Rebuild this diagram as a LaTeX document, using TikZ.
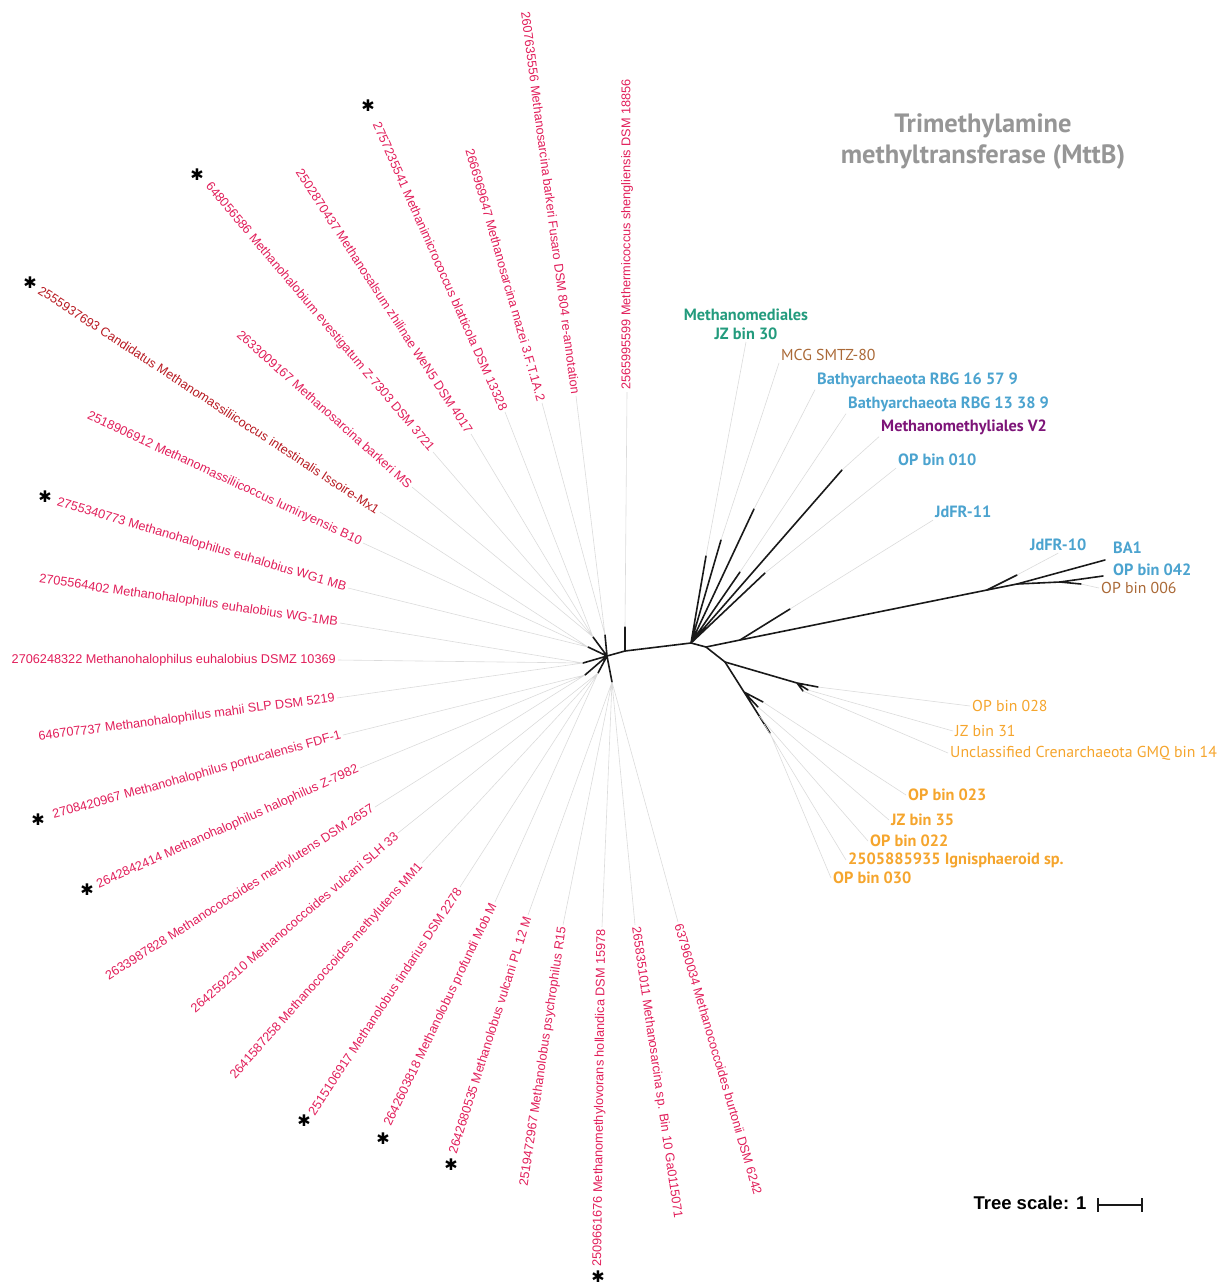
\documentclass[tikz,border=0pt]{standalone}
\usepackage{fontspec}
\setmainfont{Liberation Sans}
\newfontfamily\binfont{PT Sans}
\newfontfamily\symfont{DejaVu Sans}

\definecolor{mpink}{HTML}{E11E5A}
\definecolor{mred}{HTML}{B81A22}
\definecolor{bteal}{HTML}{239B7D}
\definecolor{bblue}{HTML}{4BA3CF}
\definecolor{bpurple}{HTML}{7D1478}
\definecolor{bbrown}{HTML}{AA6937}
\definecolor{borange}{HTML}{F5A52D}
\definecolor{ttlgray}{HTML}{969696}

\tikzset{
  branch/.style={line width=1.6pt, black!90, line cap=round},
  leader/.style={line width=0.6pt, black!14},
  taxon/.style={text=mpink, inner sep=2pt, font=\fontsize{12.7}{14}\selectfont},
  binlab/.style={inner sep=2pt, anchor=west, font=\binfont\fontsize{15.8}{19}\selectfont},
  binbold/.style={binlab, font=\binfont\bfseries\fontsize{16.3}{19}\selectfont},
  starmark/.style={inner sep=0pt, font=\symfont\fontsize{16}{16}\selectfont},
  scalebar/.style={line width=1.8pt, black!90}
}

\begin{document}
\begin{tikzpicture}[x=1pt,y=-1pt]
\useasboundingbox (0,0) rectangle (1228,1285);

%title
\node[font=\binfont\bfseries\fontsize{26.5}{31}\selectfont, text=ttlgray, align=center] (ttl) at (983,141) {Trimethylamine\\methyltransferase (MttB)};

%inner nodes
\coordinate (hub) at (607,656);
\coordinate (cM) at (625,651);
\coordinate (nA) at (691,643);
\coordinate (nB) at (706,647);
\coordinate (nC) at (740,640);
\coordinate (nD) at (987,590);
\coordinate (nE) at (1017,584);
\coordinate (nF) at (1060,582);
\coordinate (nG) at (725,662);
\coordinate (nH) at (797,683);
\coordinate (nI) at (744,692);

%tips, left cluster
\coordinate (tL1) at (605,635);
\coordinate (tL2) at (593,637);
\coordinate (tL3) at (588,647);
\coordinate (tL4) at (583,663);
\coordinate (tL5) at (585,675);
\coordinate (tL6) at (598,673);
\coordinate (tL7) at (612,682);
\coordinate (tMs) at (625,627);

%tips, upper right cluster
\coordinate (tMed) at (706,556);
\coordinate (tMCG) at (721,540);
\coordinate (tR16) at (754,509);
\coordinate (tR13) at (740,572);
\coordinate (tV2) at (842,470);
\coordinate (t010) at (765,573);

%tips, long branch
\coordinate (tJ11) at (790,609);
\coordinate (tJ10) at (1017,575);
\coordinate (tBA1) at (1105,560);
\coordinate (t042) at (1103,576);
\coordinate (t006) at (1081,584);

%tips, lower right cluster
\coordinate (t028) at (818,687);
\coordinate (tJ31) at (808,690);
\coordinate (tGMQ) at (803,691);
\coordinate (t023) at (763,702);
\coordinate (tJ35) at (758,707);
\coordinate (t022) at (759,716);
\coordinate (tIgn) at (764,724);
\coordinate (t030) at (770,733);

%branches
\draw[branch] (hub) -- (cM) -- (nA) -- (nB) -- (nC) -- (nD) -- (nE) -- (nF);
\draw[branch] (cM) -- (tMs);
\draw[branch] (hub) -- (tL1) (hub) -- (tL2) (hub) -- (tL3) (hub) -- (tL4)
  (hub) -- (tL5) (hub) -- (tL6) (hub) -- (tL7);
\draw[branch] (nA) -- (tMed) (nA) -- (tMCG) (nA) -- (tR16) (nA) -- (tR13)
  (nA) -- (tV2) (nA) -- (t010);
\draw[branch] (nC) -- (tJ11) (nD) -- (tJ10) (nE) -- (tBA1) (nF) -- (t042) (nF) -- (t006);
\draw[branch] (nB) -- (nG) -- (nH) -- (t028) (nH) -- (tJ31) (nH) -- (tGMQ);
\draw[branch] (nG) -- (nI) -- (t030) (nI) -- (t023) (nI) -- (tJ35);

%methylotrophic methanogens
\node[taxon, rotate=-82.5, anchor=east] (l1) at (576,396) {2607635556 Methanosarcina barkeri Fusaro DSM 804 re-annotation};
\node[taxon, rotate=90, anchor=west] (l2) at (627,392) {2565995599 Methermicoccus shengliensis DSM 18856};
\node[taxon, rotate=-74.1, anchor=east] (l3) at (542,403) {2666969647 Methanosarcina mazei 3.F.T.1A.2};
\node[taxon, rotate=-66.1, anchor=east] (l4) at (505,412) {2757235541 Methanimicrococcus blatticola DSM 13328};
\node[taxon, rotate=-56.9, anchor=east] (l5) at (471,434) {2502870437 Methanosalsum zhilinae WeN5 DSM 4017};
\node[taxon, rotate=-49.9, anchor=east] (l6) at (433,452) {648056586 Methanohalobium evestigatum Z-7303 DSM 3721};
\node[taxon, rotate=-41.7, anchor=east] (l7) at (412,487) {2633009167 Methanosarcina barkeri MS};
\node[taxon, text=mred, rotate=-33.2, anchor=east] (l8) at (380,512) {2555937693 Candidatus Methanomassiliicoccus intestinalis Issoire-Mx1};
\node[taxon, rotate=-24.8, anchor=east] (l9) at (363,543) {2518906912 Methanomassiliicoccus luminyensis B10};
\node[taxon, rotate=-16.4, anchor=east] (l10) at (348,588) {2755340773 Methanohalophilus euhalobius WG1 MB};
\node[taxon, rotate=-8.2, anchor=east] (l11) at (340,623) {2705564402 Methanohalophilus euhalobius WG-1MB};
\node[taxon, anchor=east] (l12) at (338,660) {2706248322 Methanohalophilus euhalobius DSMZ 10369};
\node[taxon, rotate=7.5, anchor=east] (l13) at (337,698) {646707737 Methanohalophilus mahii SLP DSM 5219};
\node[taxon, rotate=15.5, anchor=east] (l14) at (343,735) {2708420967 Methanohalophilus portucalensis FDF-1};
\node[taxon, rotate=24.1, anchor=east] (l15) at (360,768) {2642842414 Methanohalophilus halophilus Z-7982};
\node[taxon, rotate=32.5, anchor=east] (l16) at (375,807) {2633987828 Methanococcoides methylutens DSM 2657};
\node[taxon, rotate=40.7, anchor=east] (l17) at (398,833) {2642592310 Methanococcoides vulcani SLH 33};
\node[taxon, rotate=48.6, anchor=east] (l18) at (422,863) {2641587258 Methanococcoides methylutens MM1};
\node[taxon, rotate=56.7, anchor=east] (l19) at (460,887) {2515106917 Methanolobus tindarius DSM 2278};
\node[taxon, rotate=64.4, anchor=east] (l20) at (495,902) {2642603818 Methanolobus profundi Mob M};
\node[taxon, rotate=72.4, anchor=east] (l21) at (528,915) {2642680535 Methanolobus vulcani PL 12 M};
\node[taxon, rotate=81.6, anchor=east] (l22) at (563,925) {2519472967 Methanolobus psychrophilus R15};
\node[taxon, rotate=89.3, anchor=east] (l23) at (602,927) {2509661676 Methanomethylovorans hollandica DSM 15978};
\node[taxon, rotate=-81.7, anchor=west] (l24) at (635,925) {2658351011 Methanosarcina sp. Bin 10 Ga0115071};
\node[taxon, rotate=-73.6, anchor=west] (l25) at (678,922) {637960034 Methanococcoides burtonii DSM 6242};

%leaders, left cluster
\draw[leader] (tL1) -- (l1.east) (tMs) -- (l2.west) (tL1) -- (l3.east);
\draw[leader] (tL2) -- (l4.east) (tL2) -- (l5.east) (tL2) -- (l6.east) (tL2) -- (l7.east);
\draw[leader] (tL3) -- (l8.east) (tL3) -- (l9.east) (tL3) -- (l10.east);
\draw[leader] (tL4) -- (l11.east) (tL4) -- (l12.east) (tL4) -- (l13.east);
\draw[leader] (tL5) -- (l14.east) (tL5) -- (l15.east) (tL5) -- (l16.east);
\draw[leader] (tL6) -- (l17.east) (tL6) -- (l18.east) (tL6) -- (l19.east) (tL6) -- (l20.east);
\draw[leader] (tL7) -- (l21.east) (tL7) -- (l22.east) (tL7) -- (l23.east)
  (tL7) -- (l24.west) (tL7) -- (l25.west);

%stars
\node[starmark] (s4) at (368,106) {✱};
\node[starmark] (s6) at (197,175) {✱};
\node[starmark] (s8) at (30,283) {✱};
\node[starmark] (s10) at (45,497) {✱};
\node[starmark] (s14) at (38,820) {✱};
\node[starmark] (s15) at (87,890) {✱};
\node[starmark] (s19) at (304,1121) {✱};
\node[starmark] (s20) at (383,1139) {✱};
\node[starmark] (s21) at (451,1165) {✱};
\node[starmark] (s23) at (598,1277) {✱};

%other archaea
\node[binbold, text=bteal, anchor=south, align=center] (med) at (746,342) {Methanomediales\\JZ bin 30};
\node[binlab, text=bbrown] (mcg) at (779,355) {MCG SMTZ-80};
\node[binbold, text=bblue] (r16) at (815,380) {Bathyarchaeota RBG 16 57 9};
\node[binbold, text=bblue] (r13) at (846,404) {Bathyarchaeota RBG 13 38 9};
\node[binbold, text=bpurple] (v2) at (879,427) {Methanomethyliales V2};
\node[binbold, text=bblue] (o010) at (896,460) {OP bin 010};
\node[binbold, text=bblue] (j11) at (933,512) {JdFR-11};
\node[binbold, text=bblue] (j10) at (1028,545) {JdFR-10};
\node[binbold, text=bblue] (ba1) at (1111,548) {BA1};
\node[binbold, text=bblue] (o042) at (1111,570) {OP bin 042};
\node[binlab, text=bbrown] (o006) at (1099,588) {OP bin 006};
\node[binlab, text=borange] (o028) at (970,706) {OP bin 028};
\node[binlab, text=borange] (j31) at (953,731) {JZ bin 31};
\node[binlab, text=borange] (gmq) at (948,753) {Unclassified Crenarchaeota GMQ bin 14};
\node[binbold, text=borange] (o023) at (906,795) {OP bin 023};
\node[binbold, text=borange] (j35) at (889,820) {JZ bin 35};
\node[binbold, text=borange] (o022) at (868,841) {OP bin 022};
\node[binbold, text=borange] (ign) at (846,860) {2505885935 Ignisphaeroid sp.};
\node[binbold, text=borange] (o030) at (831,878) {OP bin 030};

%leaders, right side
\draw[leader] (tMed) -- (med.south) (tMCG) -- (mcg.south west) (tR16) -- (r16.south west)
  (tR13) -- (r13.south west) (tV2) -- (v2.south west) (t010) -- (o010.south west);
\draw[leader] (tJ11) -- (j11.south west) (tJ10) -- (j10.south) (t006) -- (o006.west);
\draw[leader] (t028) -- (o028.west) (tJ31) -- (j31.west) (tGMQ) -- (gmq.west);
\draw[leader] (t023) -- (o023.west) (tJ35) -- (j35.west) (t022) -- (o022.west)
  (tIgn) -- (ign.west) (t030) -- (o030.west);

%tree scale
\node[anchor=west, font=\bfseries\fontsize{18.5}{20}\selectfont] (tsc) at (970,1203) {Tree scale: 1};
\coordinate (sb1) at (1098,1205);
\coordinate (sb2) at (1142,1205);
\draw[scalebar] (sb1) -- (sb2);
\draw[scalebar] (sb1) ++(0,-7) -- ++(0,14);
\draw[scalebar] (sb2) ++(0,-7) -- ++(0,14);
\end{tikzpicture}
\end{document}
